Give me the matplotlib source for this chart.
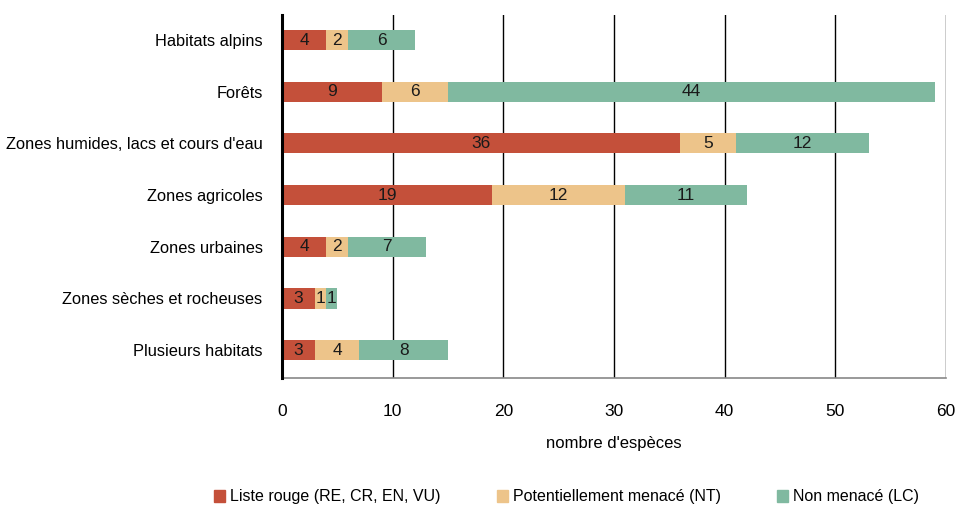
import matplotlib.pyplot as plt
from matplotlib.patches import Patch
import numpy as np

plt.rcParams['font.family'] = ['Liberation Sans', 'DejaVu Sans']

categories = ["Habitats alpins", "Forêts", "Zones humides, lacs et cours d'eau",
              "Zones agricoles", "Zones urbaines", "Zones sèches et rocheuses",
              "Plusieurs habitats"]
liste_rouge = [4, 9, 36, 19, 4, 3, 3]
pot_menace = [2, 6, 5, 12, 2, 1, 4]
non_menace = [6, 44, 12, 11, 7, 1, 8]

series = [
    ("Liste rouge (RE, CR, EN, VU)", liste_rouge, "#C4503A"),
    ("Potentiellement menacé (NT)", pot_menace, "#EDC48A"),
    ("Non menacé (LC)", non_menace, "#80B9A0"),
]

fig = plt.figure(figsize=(9.55, 5.07), dpi=100)
ax = fig.add_axes([0.2953, 0.2544, 0.6953, 0.7156])

y = np.arange(len(categories))
left = np.zeros(len(categories))
for name, vals, col in series:
    vals = np.array(vals, dtype=float)
    ax.barh(y, vals, left=left, height=0.39, color=col, zorder=3)
    for yi, l, v in zip(y, left, vals):
        ax.text(l + v / 2, yi, f"{int(v)}", ha='center', va='center',
                fontsize=12.5, color='#1a1a1a', zorder=4)
    left += vals

ax.set_xlim(0, 60)
ax.set_ylim(6.54, -0.48)
ax.set_xticks(range(0, 61, 10))
ax.set_yticks(y)
ax.set_yticklabels(categories, fontsize=11.8)
ax.tick_params(axis='x', labelsize=12.5, length=0, pad=19)
ax.tick_params(axis='y', length=0, pad=14)
ax.grid(axis='x', color='black', linewidth=1, zorder=1)
ax.set_axisbelow(True)
for s in ['top', 'right']:
    ax.spines[s].set_visible(False)
ax.spines['left'].set_linewidth(2.2)
ax.spines['left'].set_zorder(5)
ax.spines['bottom'].set_color('#888888')
ax.spines['bottom'].set_linewidth(1.2)
ax.set_xlabel("nombre d'espèces", fontsize=12, labelpad=12)

# legend entries placed one by one, like the original layout
legend_x = [214, 497, 777]
for (name, vals, col), lx in zip(series, legend_x):
    fig.legend(handles=[Patch(color=col, label=name)], loc='center left',
               bbox_to_anchor=(lx / 955, 1 - 497 / 507), frameon=False,
               fontsize=11.5, handlelength=0.7, handleheight=0.7,
               handletextpad=0.3, borderpad=0, borderaxespad=0)

fig.savefig("out.png", dpi=100)
